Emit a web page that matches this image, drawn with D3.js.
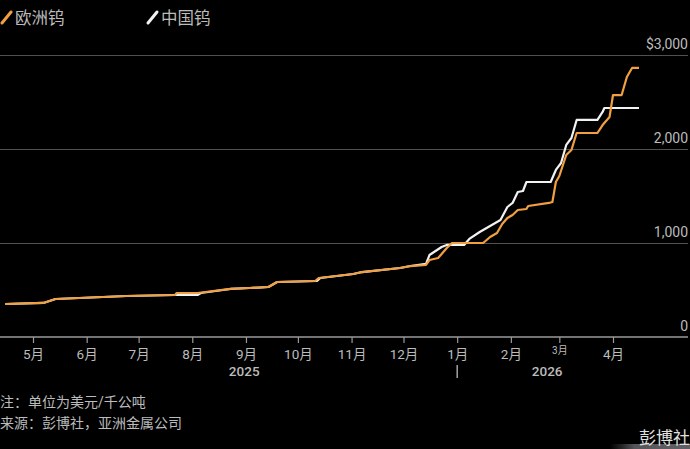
<!DOCTYPE html>
<html><head><meta charset="utf-8">
<script src="https://cdn.jsdelivr.net/npm/d3@7"></script>
<style>
html,body{margin:0;padding:0;background:#000;}
svg{display:block;}
</style></head>
<body>
<svg id="c" width="690" height="449"></svg>
<script>
// ---- data ----
const seriesNames = ["欧洲钨", "中国钨"];
const europeDates = ["2025-04-15","2025-05-07","2025-05-14","2025-06-24","2025-07-22","2025-07-23","2025-08-04","2025-08-23","2025-09-03","2025-09-14","2025-09-19","2025-10-11","2025-10-13","2025-11-02","2025-11-07","2025-11-29","2025-12-05","2025-12-14","2025-12-16","2025-12-21","2025-12-26","2025-12-29","2026-01-04","2026-01-16","2026-01-20","2026-01-24","2026-01-27","2026-01-30","2026-02-02","2026-02-05","2026-02-10","2026-02-11","2026-02-23","2026-02-25","2026-02-27","2026-03-01","2026-03-05","2026-03-08","2026-03-11","2026-03-23","2026-03-26","2026-03-30","2026-04-01","2026-04-06","2026-04-09","2026-04-12","2026-04-16"];
const europeValues = [351,362,404,436,447,468,468,511,521,532,585,596,628,670,691,734,755,766,819,840,947,1000,1000,1000,1064,1106,1202,1266,1298,1351,1362,1394,1426,1436,1649,1713,1936,1989,2170,2170,2255,2340,2574,2574,2766,2862,2862];
const chinaDates = ["2025-04-15","2025-05-07","2025-05-14","2025-06-24","2025-07-22","2025-08-04","2025-08-06","2025-08-23","2025-09-03","2025-09-14","2025-09-19","2025-10-12","2025-10-14","2025-11-02","2025-11-07","2025-11-29","2025-12-05","2025-12-14","2025-12-16","2025-12-23","2025-12-26","2026-01-05","2026-01-08","2026-01-14","2026-01-18","2026-01-21","2026-01-26","2026-01-30","2026-02-02","2026-02-05","2026-02-08","2026-02-10","2026-02-24","2026-02-27","2026-03-02","2026-03-05","2026-03-08","2026-03-11","2026-03-23","2026-03-26","2026-03-27","2026-04-16"];
const chinaValues = [351,362,404,436,447,447,468,511,521,532,585,596,628,670,691,734,755,777,872,957,979,979,1043,1117,1160,1191,1245,1383,1426,1543,1553,1649,1649,1777,1851,2043,2117,2309,2309,2394,2436,2436];
const monthTicks = ["2025-05-01","2025-06-01","2025-07-01","2025-08-01","2025-09-01","2025-10-01","2025-11-01","2025-12-01","2026-01-01","2026-02-01","2026-03-01","2026-04-01"];
const monthLabels = ["5月","6月","7月","8月","9月","10月","11月","12月","1月","2月","3月","4月"];
const yearLabels = ["2025","2026"];
const yearPositions = ["2025-08-31","2026-02-22"];
const yTicks = [0,1000,2000,3000];
const yTickLabels = ["0","1,000","2,000","$3,000"];
const noteText = "注：单位为美元/千公吨";
const sourceText = "来源：彭博社，亚洲金属公司";
const brandText = "彭博社";

// ---- setup ----
const parse = d3.utcParse("%Y-%m-%d");
const svg = d3.select("#c");
const W = 690;
const ORANGE = "#f0a040", WHITE = "#f2f2f2", TEXT = "#bcbcbc";
const FONT = "Roboto, 'Noto Sans CJK SC', sans-serif";

const x = d3.scaleUtc().domain([parse("2025-05-01"), parse("2026-04-01")]).range([33, 613]);
const y = d3.scaleLinear().domain([0, 3000]).range([337, 55]);

svg.append("rect").attr("width", W).attr("height", 449).attr("fill", "#000");

// gridlines
const yAxis = d3.axisRight(y).tickValues(yTicks.slice(1)).tickSize(688).tickFormat("");
svg.append("g").call(yAxis).call(g => {
  g.select(".domain").remove();
  g.selectAll("line").attr("stroke", "#505050").attr("stroke-width", 1);
});

// y labels
svg.append("g").selectAll("text").data(yTicks).join("text")
  .attr("x", 688).attr("y", d => y(d) - 6)
  .attr("text-anchor", "end")
  .attr("fill", TEXT).attr("font-family", FONT).attr("font-size", 14)
  .text((d, i) => yTickLabels[i]);

// x axis
const xAxis = d3.axisBottom(x).tickValues(monthTicks.map(parse)).tickSize(6).tickSizeOuter(0)
  .tickFormat((d, i) => monthLabels[i]);
const gx = svg.append("g").attr("transform", "translate(0,337)").call(xAxis);
gx.select(".domain").remove();
gx.selectAll(".tick line").attr("stroke", "#9a9a9a").attr("stroke-width", 1.2);
gx.selectAll(".tick text").attr("fill", TEXT).attr("font-family", FONT).attr("font-size", 13.5)
  .attr("y", 12)
  .each(function(d, i) {
    if (monthLabels[i] === "3月") d3.select(this).attr("font-size", 10).attr("y", 10);
  });
svg.append("line").attr("x1", 0).attr("x2", 688).attr("y1", 337).attr("y2", 337)
  .attr("stroke", "#9a9a9a").attr("stroke-width", 1.5);

// year labels
svg.append("g").selectAll("text").data(yearLabels).join("text")
  .attr("x", (d, i) => x(parse(yearPositions[i])))
  .attr("y", 376).attr("text-anchor", "middle")
  .attr("fill", TEXT).attr("font-family", FONT).attr("font-size", 13.5).attr("font-weight", 500)
  .text(d => d);
svg.append("line").attr("x1", x(parse("2026-01-01"))).attr("x2", x(parse("2026-01-01")))
  .attr("y1", 365).attr("y2", 378).attr("stroke", TEXT).attr("stroke-width", 1.3);

// lines
const line = d3.line().x(d => x(d.date)).y(d => y(d.value));
const europe = europeDates.map((d, i) => ({date: parse(d), value: europeValues[i]}));
const china = chinaDates.map((d, i) => ({date: parse(d), value: chinaValues[i]}));
svg.append("path").datum(china).attr("d", line).attr("fill", "none")
  .attr("stroke", WHITE).attr("stroke-width", 2.2).attr("stroke-linejoin", "round");
svg.append("path").datum(europe).attr("d", line).attr("fill", "none")
  .attr("stroke", ORANGE).attr("stroke-width", 2.2).attr("stroke-linejoin", "round");

// legend
const legend = [{name: seriesNames[0], color: ORANGE, x: 1}, {name: seriesNames[1], color: WHITE, x: 147}];
const lg = svg.append("g").selectAll("g").data(legend).join("g")
  .attr("transform", d => `translate(${d.x},0)`);
lg.append("line").attr("x1", 1).attr("y1", 23).attr("x2", 10).attr("y2", 12)
  .attr("stroke", d => d.color).attr("stroke-width", 3).attr("stroke-linecap", "round");
lg.append("text").attr("x", 14).attr("y", 24)
  .attr("fill", TEXT).attr("font-family", FONT).attr("font-size", 16.5)
  .text(d => d.name);

// footnotes
svg.append("text").attr("x", 0).attr("y", 407).attr("fill", TEXT)
  .attr("font-family", FONT).attr("font-size", 14).text(noteText);
svg.append("text").attr("x", 0).attr("y", 428).attr("fill", TEXT)
  .attr("font-family", FONT).attr("font-size", 14).text(sourceText);

// brand
const defs = svg.append("defs");
const grad = defs.append("linearGradient").attr("id", "bg").attr("x1", 0).attr("x2", 1);
grad.append("stop").attr("offset", 0).attr("stop-color", "#555").attr("stop-opacity", 0);
grad.append("stop").attr("offset", 0.3).attr("stop-color", "#6a6a70").attr("stop-opacity", 0.8);
grad.append("stop").attr("offset", 1).attr("stop-color", "#6a6a70").attr("stop-opacity", 0.9);
svg.append("rect").attr("x", 610).attr("y", 444).attr("width", 80).attr("height", 5).attr("fill", "url(#bg)");
svg.append("text").attr("x", 690).attr("y", 444).attr("text-anchor", "end")
  .attr("fill", "#e0e0e0").attr("font-family", FONT).attr("font-size", 17).text(brandText);
</script>
</body></html>
